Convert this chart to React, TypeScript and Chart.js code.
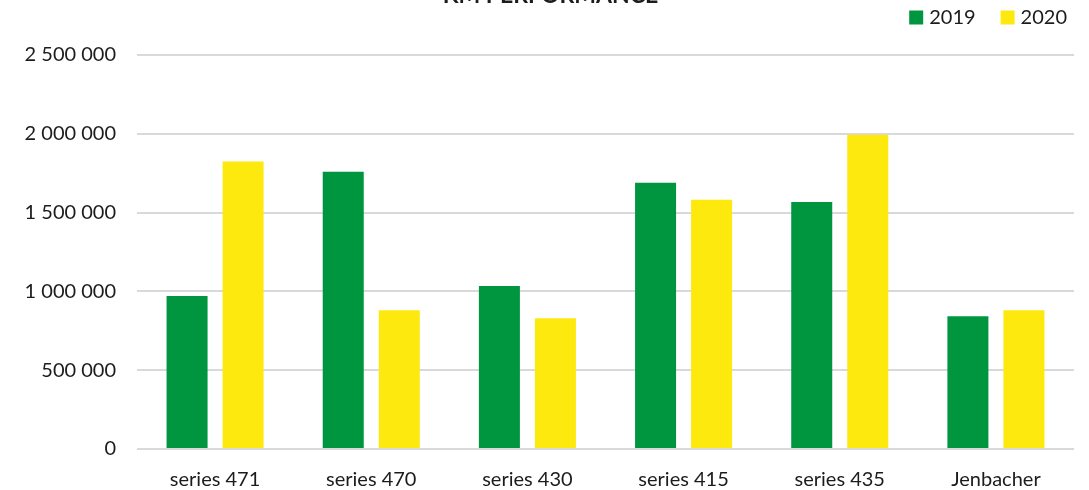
import { useEffect, useRef } from 'react';
import { Chart, registerables } from 'chart.js';

Chart.register(...registerables);

// Kilometres driven per locomotive series, 2019 vs 2020
const categories = ['series 471', 'series 470', 'series 430', 'series 415', 'series 435', 'Jenbacher'];
const seriesNames = ['2019', '2020'];
const values2019 = [971000, 1759000, 1034000, 1689000, 1568000, 843000];
const values2020 = [1824000, 881000, 830000, 1581000, 1994000, 881000];
const yTicks = [0, 500000, 1000000, 1500000, 2000000, 2500000];
const chartTitle = 'KM PERFORMANCE';

const GREEN = '#00953f';
const YELLOW = '#fee90f';
const FONT = 'Lato, "Open Sans", sans-serif';
const TEXT = '#1c1c1c';
const GRID = '#d9d9d9';

// 2500000 -> "2 500 000"
const formatThousands = (v: number) => String(v).replace(/\B(?=(\d{3})+(?!\d))/g, ' ');

// Title (its top runs past the upper edge) and a right-aligned legend
const headerPlugin = {
  id: 'header',
  afterDraw(chart: any) {
    const ctx: CanvasRenderingContext2D = chart.ctx;
    ctx.save();
    ctx.font = `bold 23px ${FONT}`;
    ctx.fillStyle = TEXT;
    ctx.textAlign = 'center';
    ctx.textBaseline = 'alphabetic';
    ctx.fillText(chartTitle, chart.width / 2 + 6, 3);

    ctx.font = `20px ${FONT}`;
    ctx.textAlign = 'left';
    ctx.textBaseline = 'middle';
    const items = chart.data.datasets.map((ds: any) => ({ label: ds.label, color: ds.backgroundColor }));
    const box = 14;
    const cy = 17.5;
    let right = chart.chartArea.right - 7;
    for (let i = items.length - 1; i >= 0; i--) {
      const w = ctx.measureText(items[i].label).width;
      const tx = right - w;
      const bx = tx - 6 - box;
      ctx.fillStyle = items[i].color;
      ctx.fillRect(bx, cy - box / 2, box, box);
      ctx.fillStyle = TEXT;
      ctx.fillText(items[i].label, tx, cy);
      right = bx - 25;
    }
    ctx.restore();
  },
};

export default function App() {
  const canvasRef = useRef<HTMLCanvasElement | null>(null);

  useEffect(() => {
    if (!canvasRef.current) return;
    const chart = new Chart(canvasRef.current, {
      type: 'bar',
      data: {
        labels: categories,
        datasets: [
          {
            label: seriesNames[0],
            data: values2019,
            backgroundColor: GREEN,
            borderWidth: 0,
            categoryPercentage: 0.7175,
            barPercentage: 0.732,
          },
          {
            label: seriesNames[1],
            data: values2020,
            backgroundColor: YELLOW,
            borderWidth: 0,
            categoryPercentage: 0.7175,
            barPercentage: 0.732,
          },
        ],
      },
      options: {
        responsive: false,
        animation: false,
        layout: { padding: { top: 55, left: 0, right: 15, bottom: 0 } },
        plugins: {
          legend: { display: false },
          title: { display: false },
          tooltip: { enabled: false },
        },
        scales: {
          x: {
            afterFit: (scale: any) => {
              scale.height = 41;
            },
            grid: { display: false, drawTicks: false },
            border: { display: false },
            ticks: {
              color: TEXT,
              padding: 21,
              maxRotation: 0,
              font: { family: FONT, size: 20, lineHeight: 1 },
            },
          },
          y: {
            min: 0,
            max: 2500000,
            afterBuildTicks: (scale: any) => {
              scale.ticks = yTicks.map((value) => ({ value }));
            },
            afterFit: (scale: any) => {
              scale.width = 137;
            },
            grid: { color: GRID, lineWidth: 2, drawTicks: false },
            border: { display: false },
            ticks: {
              color: TEXT,
              padding: 21,
              font: { family: FONT, size: 20 },
              callback: (v: any) => formatThousands(Number(v)),
            },
          },
        },
      },
      plugins: [headerPlugin],
    });
    return () => chart.destroy();
  }, []);

  return (
    <div style={{ position: 'fixed', left: 0, top: 0, width: 1089, height: 490, background: '#fff' }}>
      <canvas ref={canvasRef} width={1089} height={490} style={{ display: 'block' }} />
    </div>
  );
}
